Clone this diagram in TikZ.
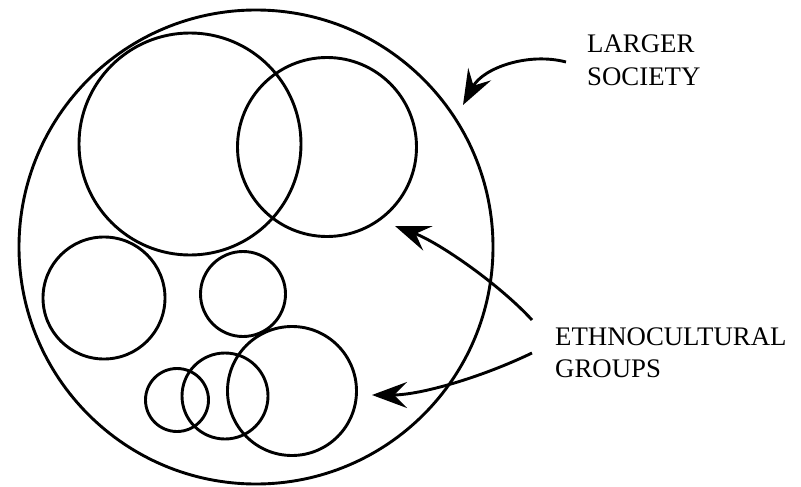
\documentclass[tikz,border=0pt]{standalone}
\usepackage{fontspec}
\setmainfont{Liberation Serif}
\usetikzlibrary{arrows.meta}
\begin{document}
\begin{tikzpicture}[x=1pt,y=-1pt,
  grp/.style={circle, draw, line width=2.9pt, inner sep=0pt, minimum size=#1},
  lbl/.style={anchor=base west, inner sep=0pt, font=\fontsize{26.8}{32}\selectfont},
  pointer/.style={line width=2.9pt, -{Stealth[length=35pt, width=26pt, inset=13pt]}}]
\useasboundingbox[fill=white] (0,0) rectangle (801,487);
% larger society
\node[grp=474pt] (society) at (256,247) {};
% ethnocultural groups
\node[grp=222pt] (g1) at (190,144) {};
\node[grp=179pt] (g2) at (327,147) {};
\node[grp=122pt] (g3) at (104,298) {};
\node[grp=85pt]  (g4) at (243,294) {};
\node[grp=63pt]  (g5) at (177,400) {};
\node[grp=86pt]  (g6) at (225,396) {};
\node[grp=129pt] (g7) at (292,391) {};
% labels
\node[lbl] (l1) at (587,53) {LARGER};
\node[lbl] (l2) at (587,85) {SOCIETY};
\node[lbl] (e1) at (555,345) {ETHNOCULTURAL};
\node[lbl] (e2) at (555,377) {GROUPS};
% arrow ends
\coordinate (a1s) at (566,62);
\coordinate (a1t) at (463,105);
\coordinate (a2s) at (532,320);
\coordinate (a2t) at (395,226);
\coordinate (a3s) at (532,353);
\coordinate (a3t) at (372,395);
\draw[pointer] (a1s) .. controls (528,52) and (483,68) .. (a1t);
\draw[pointer] (a2s) .. controls (500,285) and (440,243) .. (a2t);
\draw[pointer] (a3s) .. controls (480,378) and (420,395) .. (a3t);
\end{tikzpicture}
\end{document}
